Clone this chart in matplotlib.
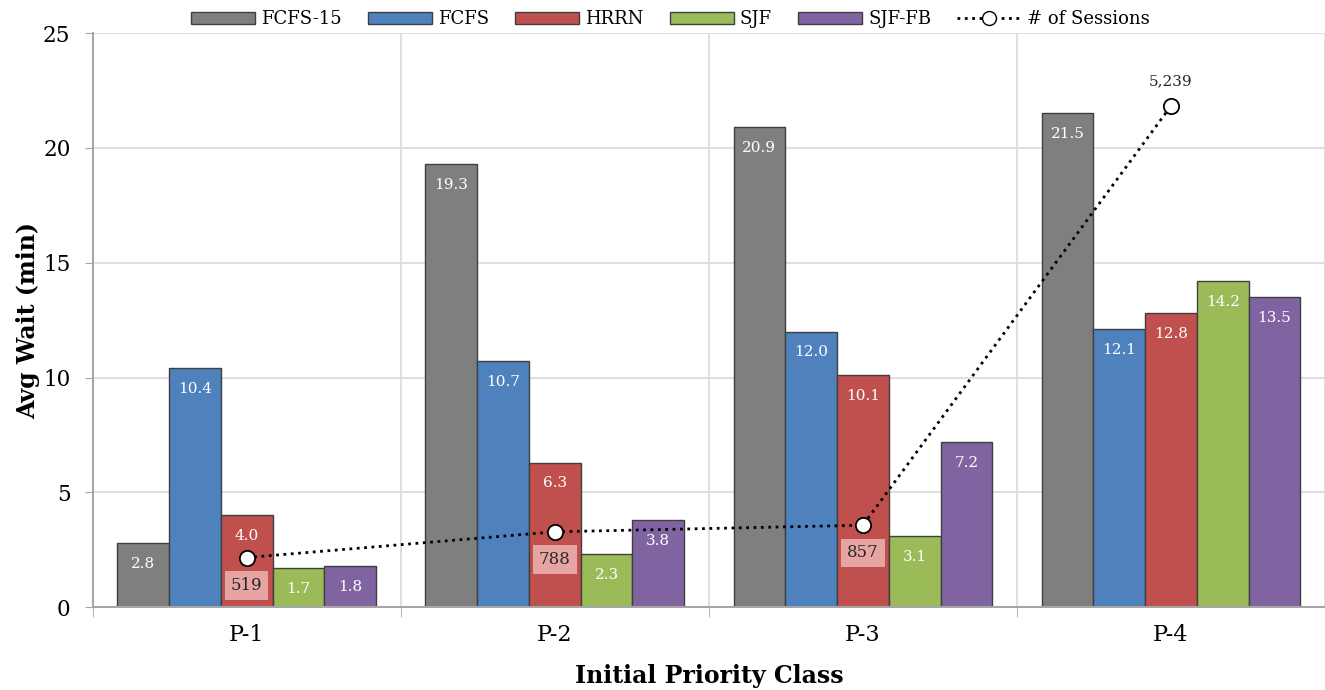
import numpy as np
import matplotlib.pyplot as plt
from matplotlib.lines import Line2D
from matplotlib.patches import Patch

plt.rcParams['font.family'] = ['DejaVu Serif']

classes = ["P-1", "P-2", "P-3", "P-4"]
series = ["FCFS-15", "FCFS", "HRRN", "SJF", "SJF-FB"]
fcfs15 = [2.8, 19.3, 20.9, 21.5]
fcfs = [10.4, 10.7, 12.0, 12.1]
hrrn = [4.0, 6.3, 10.1, 12.8]
sjf = [1.7, 2.3, 3.1, 14.2]
sjffb = [1.8, 3.8, 7.2, 13.5]
sessions = [519, 788, 857, 5239]

colors = ["#7f7f7f", "#4f81bd", "#c0504d", "#9bbb59", "#8064a2"]
values = [fcfs15, fcfs, hrrn, sjf, sjffb]

fig = plt.figure(figsize=(13.25, 6.9), dpi=100)
ax = fig.add_axes([0.070, 0.120, 0.930, 0.832])

x = np.arange(len(classes))
w = 0.168
for k, (vals, c) in enumerate(zip(values, colors)):
    pos = x + (k - 2) * w
    ax.bar(pos, vals, width=w, color=c, edgecolor="#3f3f3f", linewidth=1.0, zorder=3)
    for xi, v in zip(pos, vals):
        ax.text(xi, v - 0.9, f"{v:.1f}", ha="center", va="center",
                color="white", fontsize=11, zorder=5)

ax.set_xlim(-0.5, 3.5)
ax.set_ylim(0, 25)
ax.set_yticks(range(0, 26, 5))
ax.set_xticks(x)
ax.set_xticklabels(classes, fontsize=16)
ax.set_xticks(np.arange(-0.5, 3.6, 1), minor=True)
ax.tick_params(axis="x", which="major", length=0, pad=12)
ax.tick_params(axis="x", which="minor", length=7, color="#a6a6a6", direction="out")
ax.tick_params(axis="y", labelsize=15.5, length=6, color="#a6a6a6", direction="out", pad=10)
ax.grid(axis="y", color="#d9d9d9", linewidth=1.2, zorder=0)
ax.grid(axis="x", which="minor", color="#d9d9d9", linewidth=1.2, zorder=0)
for s in ["top", "right"]:
    ax.spines[s].set_visible(False)
for s in ["left", "bottom"]:
    ax.spines[s].set_color("#a6a6a6")
    ax.spines[s].set_linewidth(1.5)
    ax.spines[s].set_zorder(4)

ax.set_ylabel("Avg Wait (min)", fontsize=17, fontweight="bold", labelpad=2)
ax.set_xlabel("Initial Priority Class", fontsize=17, fontweight="bold", labelpad=13)

ax2 = ax.twinx()
ax2.set_ylim(0, 6000)
ax2.axis("off")
ax2.plot(x, sessions, linestyle=":", color="black", linewidth=2, marker="o",
         markersize=11, markerfacecolor="white", markeredgecolor="black",
         markeredgewidth=1.3, zorder=6)
for xi, s in zip(x, sessions):
    if s > 3000:
        ax2.annotate(f"{s:,}", (xi, s), xytext=(0, 18), textcoords="offset points",
                     ha="center", va="center", fontsize=11, color="#262626")
    else:
        ax2.annotate(f"{s:,}", (xi, s), xytext=(0, -20), textcoords="offset points",
                     ha="center", va="center", fontsize=12, color="#262626",
                     bbox=dict(boxstyle="square,pad=0.35", facecolor="#e6a5a3",
                               edgecolor="none"))

handles = [Patch(facecolor=c, edgecolor="#3f3f3f", label=s) for c, s in zip(colors, series)]
handles.append(Line2D([], [], linestyle=":", color="black", linewidth=2, marker="o",
                      markersize=10, markerfacecolor="white", markeredgecolor="black",
                      label="# of Sessions"))
fig.legend(handles=handles, loc="center", bbox_to_anchor=(0.506, 0.972), ncol=6,
           frameon=False, fontsize=13, handlelength=3.55, handleheight=0.7,
           columnspacing=1.45, handletextpad=0.33, borderpad=0)

fig.savefig("out.png", dpi=100)
